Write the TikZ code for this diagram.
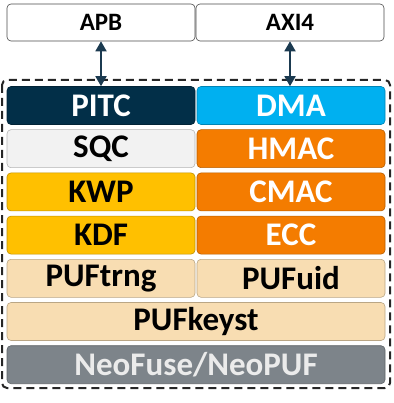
\documentclass[tikz,border=0pt]{standalone}
\usepackage{fontspec}
\setmainfont{Carlito}
\usetikzlibrary{arrows.meta}
\definecolor{navy}{HTML}{022F48}
\definecolor{sky}{HTML}{00B0F0}
\definecolor{pale}{HTML}{F2F2F2}
\definecolor{amber}{HTML}{FFC000}
\definecolor{tang}{HTML}{F47C00}
\definecolor{sand}{HTML}{F8DDB2}
\definecolor{slate}{HTML}{7D848A}
\definecolor{link}{HTML}{1B3A50}

\begin{document}
\begin{tikzpicture}[x=1pt,y=-1pt,
        blk/.style={draw=#1!75!black, fill=#1, rounded corners=4pt, line width=0.6pt,
          minimum height=38pt, inner sep=0pt, font=\fontsize{33}{33}\selectfont\bfseries},
        half/.style={minimum width=188pt},
        full/.style={minimum width=378pt},
        bus/.style={draw=black!70, fill=white, rounded corners=4pt, line width=0.6pt,
          minimum width=188pt, minimum height=37pt, inner sep=0pt,
          font=\fontsize{25}{25}\selectfont\bfseries},
        link/.style={draw=link, line width=1.8pt, {Triangle[length=10pt,width=11pt]}-{Triangle[length=10pt,width=11pt]}}]
  \useasboundingbox (0,0) rectangle (393,403);
  % bus interfaces
  \node[bus] (apb) at (101,22.5) {APB};
  \node[bus] (axi) at (290,22.5) {AXI4};
  % engine stack
  \draw[black!85, line width=2pt, dash pattern=on 8pt off 5pt, rounded corners=5pt]
    (2,80) rectangle (390,388);
  \node[blk=navy, half, text=white] (pitc) at (101,105.5) {PITC};
  \node[blk=sky, half, text=white] (dma) at (291,105.5) {DMA};
  \node[blk=pale, half] (sqc) at (101,148.7) {SQC};
  \node[blk=tang, half, text=white] (hmac) at (291,148.7) {HMAC};
  \node[blk=amber, half] (kwp) at (101,191.9) {KWP};
  \node[blk=tang, half, text=white] (cmac) at (291,191.9) {CMAC};
  \node[blk=amber, half] (kdf) at (101,235.1) {KDF};
  \node[blk=tang, half, text=white] (ecc) at (291,235.1) {ECC};
  \node[blk=sand, half] (trng) at (101,278.3) {PUFtrng};
  \node[blk=sand, half] (uid) at (291,278.3) {PUFuid};
  \node[blk=sand, full] (keyst) at (196,321.5) {PUFkeyst};
  \node[blk=slate, full, text=white!92!black] (neo) at (196,364.7) {NeoFuse/NeoPUF};
  % links
  \draw[link] (apb.south) -- (pitc.north);
  \draw[link] (axi.south) -- (axi.south |- dma.north);
\end{tikzpicture}
\end{document}
